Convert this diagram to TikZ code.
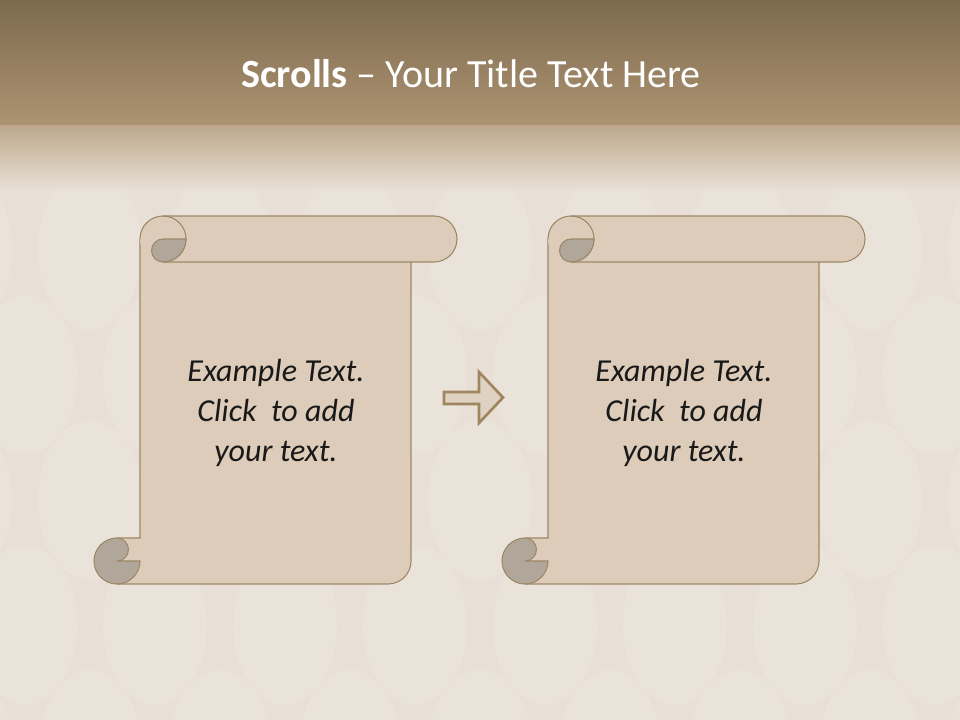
\documentclass[tikz,border=0pt]{standalone}
\usepackage{fontspec}
\setmainfont{Carlito}
\definecolor{bandtop}{HTML}{7D6A4E}
\definecolor{bandbot}{HTML}{AD9472}
\definecolor{fadetop}{HTML}{BEA98D}
\definecolor{paper}{HTML}{E8E0D6}
\definecolor{scrollbg}{HTML}{DCCCB9}
\definecolor{scrolldark}{HTML}{B1A69A}
\definecolor{scrollline}{HTML}{9E8766}
\definecolor{arrowline}{HTML}{A08660}
\definecolor{arrowbg}{HTML}{DFD2C2}

\begin{document}
\begin{tikzpicture}[x=0.75pt, y=-0.75pt,
  scrollfill/.style={fill=scrollbg, draw=scrollline, line width=0.8pt},
  curlfill/.style={fill=scrolldark, draw=scrollline, line width=0.8pt},
  rimline/.style={draw=scrollline, line width=0.8pt},
  blob/.style={fill=white, fill opacity=0.1},
  bodytext/.style={align=center, text=black!90, font=\fontsize{24}{30}\selectfont\itshape},
  titletext/.style={text=white, font=\fontsize{30}{36}\selectfont}]

\useasboundingbox (0,0) rectangle (960,720);

% Background
\fill[paper] (0,0) rectangle (960,720);
\foreach \row in {0,1,2,3,4} {
  \foreach \col in {0,...,8} {
    \fill[blob] ({\col*130 + mod(\row,2)*65 - 40}, {\row*125 + 250}) ellipse[x radius=52, y radius=80];
  }
}
\shade[top color=bandtop, bottom color=bandbot] (0,0) rectangle (960,126);
\shade[top color=fadetop, bottom color=paper] (0,126) rectangle (960,190);

\node[titletext, anchor=base] (title) at (471,88) {\textbf{Scrolls} -- Your Title Text Here};

% First scroll
\begin{scope}
\filldraw[scrollfill] (140,239) -- (140,538) -- (117,538) -- (117,584) -- (388,584) arc[start angle=90, end angle=0, radius=23] -- (411,239) -- cycle;
\fill[scrollbg] (163,216) -- (434,216) arc[start angle=-90, end angle=90, radius=23] -- (163,262) arc[start angle=90, end angle=270, radius=23] -- cycle;
\draw[rimline] (140,239) arc[start angle=180, end angle=270, radius=23] -- (434,216) arc[start angle=-90, end angle=90, radius=23] -- (163,262);
\draw[rimline] (163,216) arc[start angle=-90, end angle=90, radius=23];
\filldraw[curlfill] (163,239) -- (186,239) arc[start angle=0, end angle=90, radius=23] arc[start angle=90, end angle=270, radius=11.5] -- cycle;
\filldraw[curlfill] (117,538) arc[start angle=270, end angle=0, radius=23] -- (117,561) arc[start angle=90, end angle=-90, radius=11.5] -- cycle;
\node[bodytext] (txtA) at (276,413) {Example Text.\\Click \ to add\\your text.};
\end{scope}

% Arrow
\filldraw[fill=arrowbg, draw=arrowline, line width=2pt] (444,392) -- (479,392) -- (479,372) -- (503,397.5) -- (479,423) -- (479,404) -- (444,404) -- cycle;

% Second scroll
\begin{scope}[xshift=408*0.75pt]
\filldraw[scrollfill] (140,239) -- (140,538) -- (117,538) -- (117,584) -- (388,584) arc[start angle=90, end angle=0, radius=23] -- (411,239) -- cycle;
\fill[scrollbg] (163,216) -- (434,216) arc[start angle=-90, end angle=90, radius=23] -- (163,262) arc[start angle=90, end angle=270, radius=23] -- cycle;
\draw[rimline] (140,239) arc[start angle=180, end angle=270, radius=23] -- (434,216) arc[start angle=-90, end angle=90, radius=23] -- (163,262);
\draw[rimline] (163,216) arc[start angle=-90, end angle=90, radius=23];
\filldraw[curlfill] (163,239) -- (186,239) arc[start angle=0, end angle=90, radius=23] arc[start angle=90, end angle=270, radius=11.5] -- cycle;
\filldraw[curlfill] (117,538) arc[start angle=270, end angle=0, radius=23] -- (117,561) arc[start angle=90, end angle=-90, radius=11.5] -- cycle;
\node[bodytext] (txtB) at (276,413) {Example Text.\\Click \ to add\\your text.};
\end{scope}

\end{tikzpicture}
\end{document}
